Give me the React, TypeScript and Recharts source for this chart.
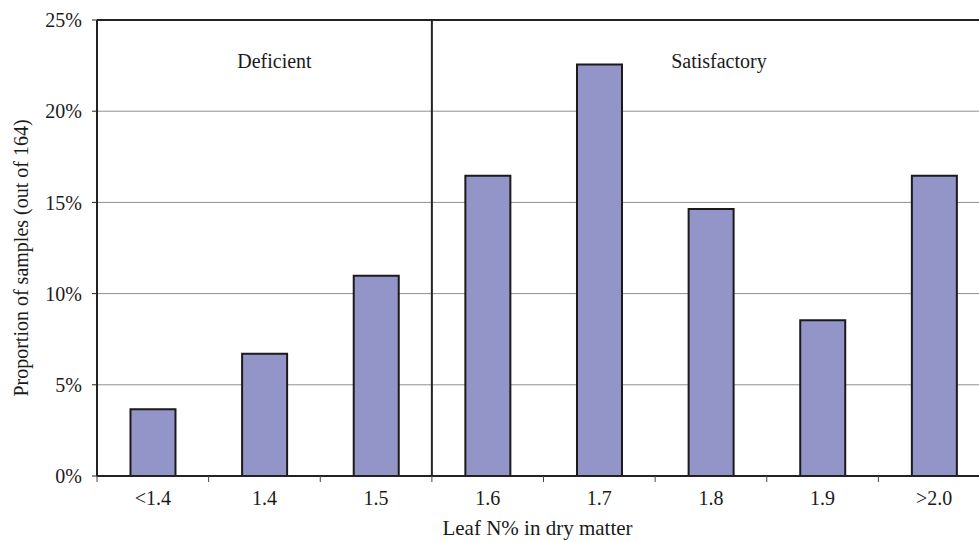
import {
  Bar,
  BarChart,
  CartesianGrid,
  ReferenceArea,
  ReferenceLine,
  XAxis,
  YAxis,
} from "recharts";

// leaf N classes and sample counts (proportions are out of 164)
const categories = ["<1.4", "1.4", "1.5", "1.6", "1.7", "1.8", "1.9", ">2.0"];
const counts = [6, 11, 18, 27, 37, 24, 14, 27];
const totalSamples = 164;

const yTicks = [0, 0.05, 0.1, 0.15, 0.2, 0.25];
const edgeTicks = [0, 1, 2, 3, 4, 5, 6, 7, 8];

// class boundaries, counted in categories
const deficientRange = [0, 3];
const satisfactoryRange = [3, 8];

const data = categories.map((label, i) => ({
  label,
  edge: i,
  share: counts[i] / totalSamples,
}));

const serif = '"Liberation Serif", "Times New Roman", serif';
const textStyle = { fill: "#1a1a1a", fontSize: 20, fontFamily: serif };

function pct(value: number) {
  return `${Math.round(value * 100)}%`;
}

export default function App() {
  return (
    <div
      style={{
        position: "fixed",
        left: 0,
        top: 0,
        width: 979,
        height: 542,
        overflow: "hidden",
        background: "#fff",
        fontFamily: serif,
      }}
    >
      <BarChart
        width={1001}
        height={542}
        data={data}
        margin={{ top: 20, right: 11, left: 0, bottom: 0 }}
        barCategoryGap="30%"
      >
        <CartesianGrid xAxisId="b-cat" vertical={false} stroke="#8f8f8f" />
        <XAxis
          xAxisId="a-edges"
          dataKey="edge"
          type="number"
          domain={[0, categories.length]}
          ticks={edgeTicks}
          tickFormatter={() => ""}
          height={1}
          tickSize={6}
          axisLine={{ stroke: "#222", strokeWidth: 2 }}
          tickLine={{ stroke: "#444" }}
        />
        <XAxis
          xAxisId="b-cat"
          dataKey="label"
          height={65}
          axisLine={false}
          tickLine={false}
          tickMargin={8}
          tick={textStyle}
          label={{
            value: "Leaf N% in dry matter",
            position: "insideBottom",
            offset: 7,
            dx: -6,
            ...textStyle,
            fontSize: 21,
          }}
        />
        <YAxis
          width={97}
          domain={[0, 0.25]}
          ticks={yTicks}
          tickFormatter={pct}
          tickSize={5}
          tickMargin={10}
          tick={textStyle}
          axisLine={{ stroke: "#222", strokeWidth: 2 }}
          tickLine={{ stroke: "#222" }}
          label={{
            value: "Proportion of samples (out of 164)",
            angle: -90,
            position: "center",
            dx: -28,
            dy: 10,
            ...textStyle,
          }}
        />
        <ReferenceLine xAxisId="b-cat" y={0.25} stroke="#222" strokeWidth={2} />
        <ReferenceLine xAxisId="a-edges" x={deficientRange[1]} stroke="#222" strokeWidth={2} />
        <ReferenceArea
          xAxisId="a-edges"
          x1={deficientRange[0]}
          x2={deficientRange[1]}
          fill="none"
          stroke="none"
          label={{ value: "Deficient", position: "insideTop", offset: 34, dx: 10, ...textStyle }}
        />
        <ReferenceArea
          xAxisId="a-edges"
          x1={satisfactoryRange[0]}
          x2={satisfactoryRange[1]}
          fill="none"
          stroke="none"
          label={{ value: "Satisfactory", position: "insideTop", offset: 34, dx: 8, ...textStyle }}
        />
        <Bar
          xAxisId="b-cat"
          dataKey="share"
          fill="#9395c9"
          stroke="#1a1a1a"
          strokeWidth={2}
          isAnimationActive={false}
        />
      </BarChart>
    </div>
  );
}
